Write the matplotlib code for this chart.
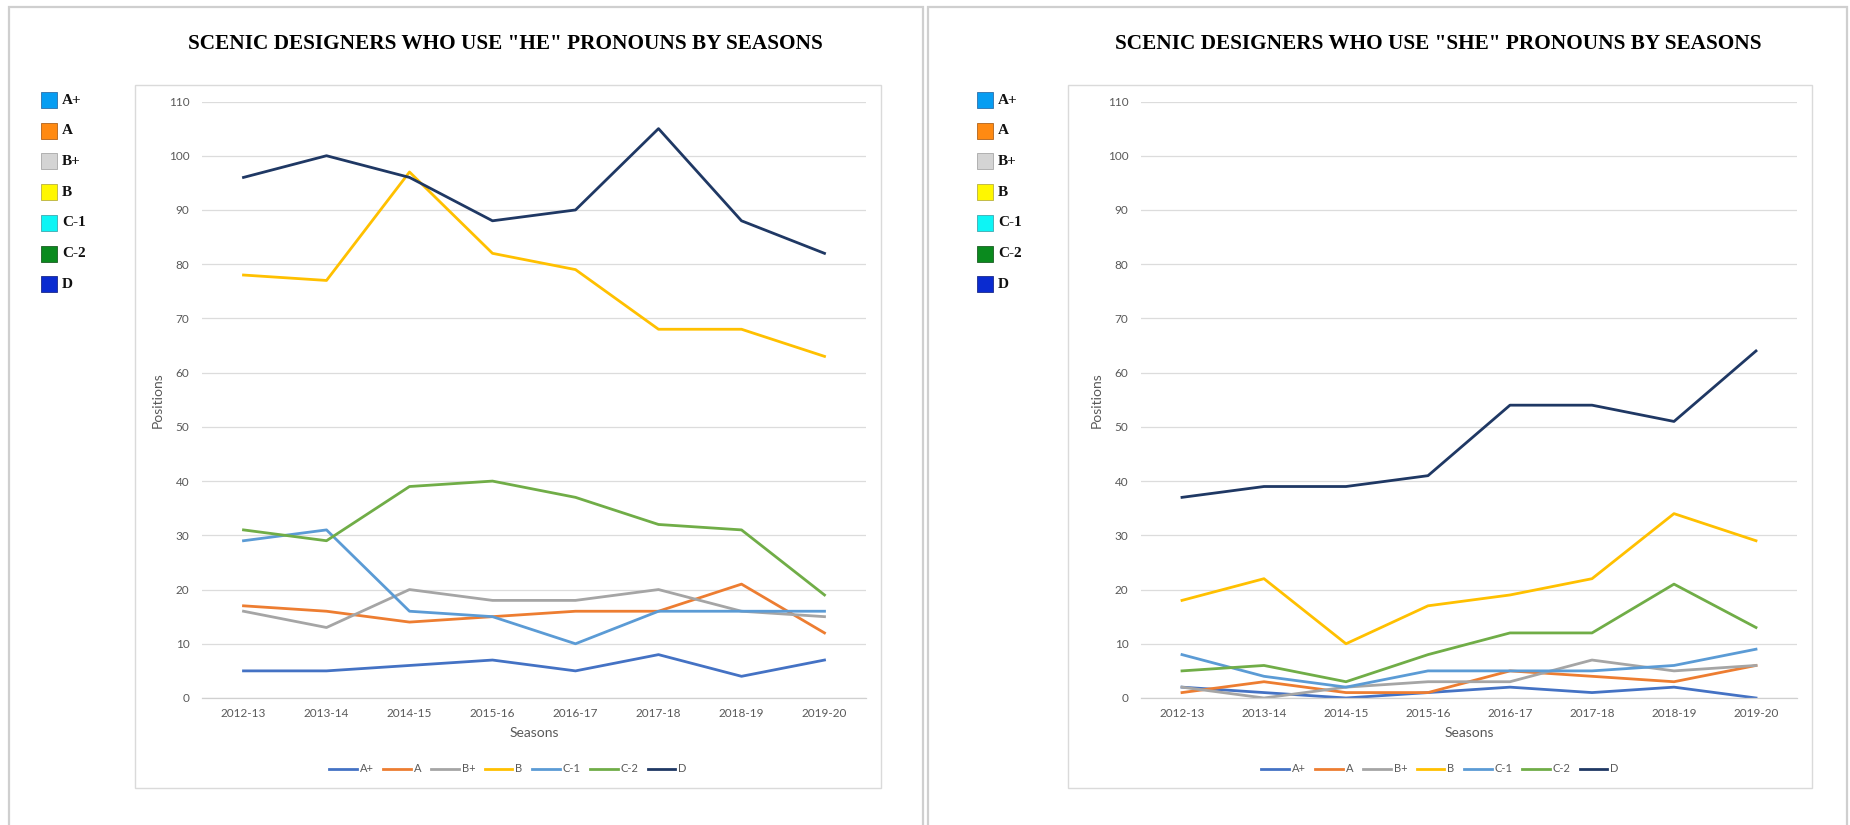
import matplotlib
matplotlib.use("Agg")
import matplotlib.pyplot as plt
from matplotlib.patches import Rectangle

W, H = 1850, 825

seasons = ["2012-13", "2013-14", "2014-15", "2015-16", "2016-17", "2017-18", "2018-19", "2019-20"]
grades = ["A+", "A", "B+", "B", "C-1", "C-2", "D"]

he_a_plus = [5, 5, 6, 7, 5, 8, 4, 7]
he_a = [17, 16, 14, 15, 16, 16, 21, 12]
he_b_plus = [16, 13, 20, 18, 18, 20, 16, 15]
he_b = [78, 77, 97, 82, 79, 68, 68, 63]
he_c1 = [29, 31, 16, 15, 10, 16, 16, 16]
he_c2 = [31, 29, 39, 40, 37, 32, 31, 19]
he_d = [96, 100, 96, 88, 90, 105, 88, 82]

she_a_plus = [2, 1, 0, 1, 2, 1, 2, 0]
she_a = [1, 3, 1, 1, 5, 4, 3, 6]
she_b_plus = [2, 0, 2, 3, 3, 7, 5, 6]
she_b = [18, 22, 10, 17, 19, 22, 34, 29]
she_c1 = [8, 4, 2, 5, 5, 5, 6, 9]
she_c2 = [5, 6, 3, 8, 12, 12, 21, 13]
she_d = [37, 39, 39, 41, 54, 54, 51, 64]

he_series = [he_a_plus, he_a, he_b_plus, he_b, he_c1, he_c2, he_d]
she_series = [she_a_plus, she_a, she_b_plus, she_b, she_c1, she_c2, she_d]

line_colors = ["#4472C4", "#ED7D31", "#A5A5A5", "#FFC000", "#5B9BD5", "#70AD47", "#1F3864"]
key_colors = ["#079DF2", "#FF8A12", "#D4D4D4", "#FFF700", "#0DF5F5", "#0A8A1E", "#0A2BD0"]
key_edges = ["#2F6FA8", "#B0621C", "#A8A8A8", "#B8B040", "#3FA8B0", "#1B5E24", "#1B2A8A"]

titles = ['SCENIC DESIGNERS WHO USE "HE" PRONOUNS BY SEASONS',
          'SCENIC DESIGNERS WHO USE "SHE" PRONOUNS BY SEASONS']

fig = plt.figure(figsize=(W / 100, H / 100), dpi=100)
fig.patch.set_facecolor("white")


def fx(x):
    return x / W


def fy(y):
    return 1 - y / H


def frect(x0, y0, x1, y1, **kw):
    r = Rectangle((fx(x0), fy(y1)), fx(x1) - fx(x0), fy(y0) - fy(y1),
                  transform=fig.transFigure, fill=False, **kw)
    fig.patches.append(r)


# outer panels
frect(9, 7, 923, 840, edgecolor="#CFCFCF", linewidth=1.6)
frect(928, 7, 1847, 840, edgecolor="#CFCFCF", linewidth=1.6)

panels = [
    dict(series=he_series, title=titles[0], box=(135, 85, 881, 788), plot=(202, 101.5, 866, 698),
         key_x=41, title_x=505),
    dict(series=she_series, title=titles[1], box=(1068, 85, 1812, 788), plot=(1141, 101.5, 1797, 698),
         key_x=977, title_x=1438),
]

for p in panels:
    # chart box
    bx0, by0, bx1, by1 = p["box"]
    frect(bx0, by0, bx1, by1, edgecolor="#DADADA", linewidth=1.0)

    # title
    fig.text(fx(p["title_x"]), fy(44), p["title"], ha="center", va="center",
             fontfamily="Liberation Serif", fontweight="bold", fontsize=15.3, color="black")

    # side color key
    for i, (g, c, e) in enumerate(zip(grades, key_colors, key_edges)):
        yc = 100 + i * 30.7
        r = Rectangle((fx(p["key_x"]), fy(yc + 8)), fx(16), 16 / H, transform=fig.transFigure,
                      facecolor=c, edgecolor=e, linewidth=0.6)
        fig.patches.append(r)
        fig.text(fx(p["key_x"] + 21), fy(yc), g, ha="left", va="center",
                 fontfamily="Liberation Serif", fontweight="bold", fontsize=11, color="#111111")

    # plot
    px0, py0, px1, py1 = p["plot"]
    ax = fig.add_axes([fx(px0), fy(py1), fx(px1) - fx(px0), fy(py0) - fy(py1)])
    x = list(range(len(seasons)))
    for s, g, c in zip(p["series"], grades, line_colors):
        ax.plot(x, s, color=c, linewidth=2.0, label=g, solid_joinstyle="round")
    ax.set_xlim(-0.5, len(seasons) - 0.5)
    ax.set_ylim(0, 110)
    ax.set_yticks(range(0, 111, 10))
    ax.set_xticks(x)
    ax.set_xticklabels(seasons)
    ax.grid(axis="y", color="#DCDCDC", linewidth=0.9)
    ax.set_axisbelow(True)
    for sp in ["top", "right", "left"]:
        ax.spines[sp].set_visible(False)
    ax.spines["bottom"].set_color("#D0D0D0")
    ax.spines["bottom"].set_linewidth(0.9)
    ax.tick_params(axis="both", length=0, labelsize=8.5, labelcolor="#595959")
    ax.tick_params(axis="y", pad=9)
    ax.tick_params(axis="x", pad=7)
    for t in ax.get_xticklabels() + ax.get_yticklabels():
        t.set_fontfamily("Lato")
    ax.set_xlabel("Seasons", fontfamily="Lato", fontsize=10, color="#595959", labelpad=6)
    ax.set_ylabel("Positions", fontfamily="Lato", fontsize=10, color="#595959", labelpad=4)
    # legend centred on the chart box (as Excel does)
    leg_cx = ((bx0 + bx1) / 2 - px0) / (px1 - px0)
    ax.legend(loc="center", bbox_to_anchor=(leg_cx, (py1 - 769) / (py1 - py0)), ncol=7, frameon=False,
              prop={"family": "Lato", "size": 8}, handlelength=2.5, handletextpad=0.25,
              columnspacing=0.85, labelcolor="#595959")

fig.savefig("out.png", dpi=100, facecolor="white")
